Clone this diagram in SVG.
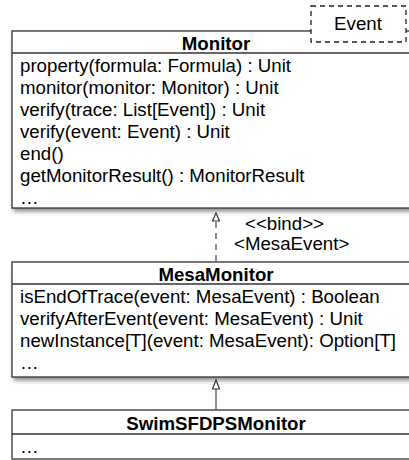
<svg xmlns="http://www.w3.org/2000/svg" width="409" height="460" viewBox="0 0 409 460">
<defs>
<filter id="sh" x="-10%" y="-10%" width="130%" height="130%">
<feGaussianBlur in="SourceAlpha" stdDeviation="2"/>
<feOffset dx="2" dy="3" result="b"/>
<feComponentTransfer><feFuncA type="linear" slope="0.45"/></feComponentTransfer>
<feMerge><feMergeNode/><feMergeNode in="SourceGraphic"/></feMerge>
</filter>
</defs>
<style>
.box{fill:#fff;stroke:#333;stroke-width:1.3}
.sep{stroke:#333;stroke-width:1.3}
.t{font-family:"Liberation Sans",Arial,sans-serif;font-size:18.7px;fill:#000}
.b{font-weight:bold;text-anchor:middle}
.conn{stroke:#555;stroke-width:1.3;fill:none}
.head{fill:#fff;stroke:#333;stroke-width:1.2}
</style>
<g id="Monitor">
<rect class="box" x="12" y="31" width="420" height="177" filter="url(#sh)"/>
<line class="sep" x1="12" y1="53" x2="432" y2="53"/>
<text class="t b" x="216" y="50">Monitor</text>
<text class="t" x="20" y="72">property(formula: Formula) : Unit</text>
<text class="t" x="20" y="94">monitor(monitor: Monitor) : Unit</text>
<text class="t" x="20" y="116">verify(trace: List[Event]) : Unit</text>
<text class="t" x="20" y="138">verify(event: Event) : Unit</text>
<text class="t" x="20" y="160">end()</text>
<text class="t" x="20" y="182">getMonitorResult() : MonitorResult</text>
<text class="t" x="20" y="204">…</text>
</g>
<g id="Event">
<rect x="311" y="6" width="95" height="36" fill="#fff" stroke="#222" stroke-width="1.3" stroke-dasharray="5,4"/>
<text class="t" x="358" y="30" text-anchor="middle" font-size="17px">Event</text>
</g>
<g id="MesaMonitor">
<rect class="box" x="12" y="262" width="420" height="115" filter="url(#sh)"/>
<line class="sep" x1="12" y1="284" x2="432" y2="284"/>
<text class="t b" x="216" y="281">MesaMonitor</text>
<text class="t" x="20" y="303">isEndOfTrace(event: MesaEvent) : Boolean</text>
<text class="t" x="20" y="325">verifyAfterEvent(event: MesaEvent) : Unit</text>
<text class="t" x="20" y="347">newInstance[T](event: MesaEvent): Option[T]</text>
<text class="t" x="20" y="369">…</text>
</g>
<g id="SwimSFDPSMonitor">
<rect class="box" x="12" y="410" width="420" height="49"/>
<line class="sep" x1="12" y1="434" x2="432" y2="434"/>
<text class="t b" x="216" y="430">SwimSFDPSMonitor</text>
<text class="t" x="20" y="453">…</text>
</g>
<g id="connectors">
<line class="conn" x1="216" y1="261" x2="216" y2="221" stroke-dasharray="6,5"/>
<polygon class="head" points="216,213 212.5,221 219.5,221"/>
<text class="t" x="245" y="230" font-size="16px">&lt;&lt;bind&gt;&gt;</text>
<text class="t" x="234" y="250" font-size="15.5px">&lt;MesaEvent&gt;</text>
<line class="conn" x1="216" y1="410" x2="216" y2="389"/>
<polygon class="head" points="216,380 212.5,389 219.5,389"/>
</g>
</svg>
